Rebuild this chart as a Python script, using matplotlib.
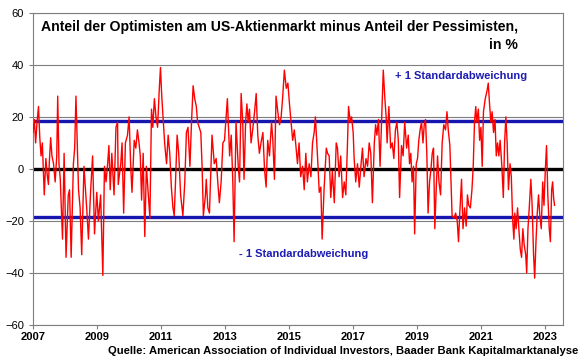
import numpy as np
import matplotlib.pyplot as plt

plt.rcParams['font.family'] = ['Liberation Sans', 'DejaVu Sans']

# Bull-Bear-Spread (AAII)
jahr = [
    2007.00, 2007.04, 2007.08, 2007.125, 2007.17, 2007.21, 2007.25, 2007.29, 2007.33, 2007.35,
    2007.40, 2007.44, 2007.48, 2007.51, 2007.55, 2007.59, 2007.64, 2007.69, 2007.74, 2007.77,
    2007.81, 2007.85, 2007.92, 2007.97, 2008.03, 2008.10, 2008.14, 2008.19, 2008.26, 2008.30,
    2008.34, 2008.42, 2008.47, 2008.52, 2008.59, 2008.68, 2008.73, 2008.80, 2008.86, 2008.92,
    2008.99, 2009.04, 2009.11, 2009.18, 2009.23, 2009.28, 2009.33, 2009.37, 2009.41, 2009.46,
    2009.53, 2009.59, 2009.64,
    2009.66, 2009.74, 2009.78, 2009.83, 2009.885, 2009.95, 2010.00, 2010.05, 2010.09, 2010.16,
    2010.21, 2010.26, 2010.31, 2010.35, 2010.39, 2010.44, 2010.49, 2010.54, 2010.59, 2010.65,
    2010.70, 2010.74, 2010.79, 2010.84, 2010.89, 2010.94, 2010.98, 2011.02, 2011.07, 2011.11,
    2011.17, 2011.22, 2011.27, 2011.32, 2011.37, 2011.41, 2011.45, 2011.50, 2011.55, 2011.61,
    2011.68, 2011.74, 2011.79, 2011.84, 2011.90, 2011.95, 2012.00, 2012.05, 2012.10, 2012.14,
    2012.19, 2012.24, 2012.28, 2012.32, 2012.385,
    2012.41, 2012.46, 2012.51, 2012.59, 2012.66, 2012.72, 2012.77, 2012.82, 2012.875, 2012.93,
    2012.98, 2013.03, 2013.07, 2013.14, 2013.19, 2013.24, 2013.28, 2013.34, 2013.41, 2013.45,
    2013.50, 2013.55, 2013.59, 2013.64, 2013.68, 2013.72, 2013.76, 2013.81, 2013.86, 2013.92,
    2013.97, 2014.02, 2014.07, 2014.12, 2014.18, 2014.23, 2014.28, 2014.33, 2014.385, 2014.45,
    2014.49, 2014.54, 2014.59, 2014.645, 2014.70, 2014.75, 2014.80, 2014.85, 2014.91, 2014.96,
    2015.01, 2015.06, 2015.11,
    2015.16, 2015.21, 2015.26, 2015.31, 2015.36, 2015.42, 2015.47, 2015.52, 2015.57, 2015.625,
    2015.68, 2015.73, 2015.78, 2015.82, 2015.885, 2015.94, 2015.99, 2016.03, 2016.09, 2016.16,
    2016.20, 2016.25, 2016.30, 2016.35, 2016.41, 2016.47, 2016.51, 2016.56, 2016.61, 2016.67,
    2016.72, 2016.77, 2016.82, 2016.855, 2016.91, 2016.95, 2017.00, 2017.03, 2017.08, 2017.135,
    2017.19, 2017.24, 2017.29, 2017.34, 2017.40, 2017.45, 2017.50, 2017.55, 2017.60, 2017.66,
    2017.70, 2017.74, 2017.79, 2017.84, 2017.885,
    2017.94, 2017.99, 2018.03, 2018.06, 2018.115, 2018.17, 2018.22, 2018.27, 2018.32, 2018.365,
    2018.41, 2018.45, 2018.51, 2018.56, 2018.61, 2018.67, 2018.72, 2018.76, 2018.80, 2018.84,
    2018.885, 2018.92, 2018.97, 2019.01, 2019.05, 2019.09, 2019.135, 2019.18, 2019.22, 2019.26,
    2019.30, 2019.34, 2019.385, 2019.43, 2019.47, 2019.51, 2019.55, 2019.59, 2019.635, 2019.68,
    2019.73, 2019.78, 2019.83, 2019.885, 2019.93, 2019.97, 2020.02, 2020.05, 2020.09, 2020.15,
    2020.20, 2020.25, 2020.29, 2020.33, 2020.385, 2020.43, 2020.48, 2020.53, 2020.57, 2020.61,
    2020.66, 2020.71, 2020.75, 2020.79, 2020.83, 2020.86, 2020.91, 2020.95, 2020.99, 2021.03,
    2021.07, 2021.125, 2021.18, 2021.22, 2021.26, 2021.30, 2021.34, 2021.385, 2021.43, 2021.47,
    2021.51, 2021.55, 2021.59, 2021.645, 2021.69, 2021.73, 2021.77, 2021.81, 2021.85, 2021.90,
    2021.94, 2021.98, 2022.02, 2022.05, 2022.09, 2022.135, 2022.18, 2022.22, 2022.26, 2022.30,
    2022.34, 2022.39, 2022.42, 2022.46, 2022.50, 2022.55, 2022.59, 2022.635, 2022.67, 2022.71,
    2022.75, 2022.79, 2022.83, 2022.875, 2022.92, 2022.96, 2023.00, 2023.04, 2023.08, 2023.125,
    2023.16, 2023.20, 2023.23, 2023.26, 2023.29,
]
spread = [
    14, 19, 10, 18, 24, 12, 5, 10, -3, -10,
    4, -2, -6, 3, 12, 5, 2, -5, 5, 28,
    2, -4, -27, 6, -34, -10, -8, -34, 2, 8,
    28, -8, -15, -33, 1, -16, -27, -8, 5, -25,
    -9, -20, -10, -41, 1, -5, 2, 9, -8, 6,
    -10, 16, 18,
    -6, 2, 10, -17, 10, 13, 20, 1, -9, 11,
    8, 15, 10, 5, -12, 6, -26, 1, -8, -19,
    23, 16, 27, 20, 16, 30, 39, 28, 18, 10,
    2, 13, 6, -7, -15, -18, -5, 13, 6, -10,
    -18, -5, 14, 16, 1, 18, 32, 27, 24, 18,
    16, 14, 1, -18, -10,
    -4, -15, -17, 13, 2, 4, -5, -13, -5, 10,
    11, 20, 27, 5, 13, -5, -28, 18, 1, -5,
    29, 18, -4, 18, 25, 18, 23, 10, 15, 22,
    29, 13, 6, 10, 14, 0, -7, 11, 5, 18,
    11, -4, 28, 22, 17, 20, 28, 38, 31, 33,
    25, 18, 11,
    15, 9, 2, 10, -3, 1, -8, 6, -5, 2,
    -3, 10, 14, 20, 5, -9, -7, -27, -8, 8,
    6, 5, -11, -1, -13, 10, 8, -3, 5, -11,
    -5, -10, 9, 24, 18, 20, 14, 4, -5, 2,
    -7, 1, 8, -3, 4, 1, 10, 6, -13, 10,
    17, 13, 19, 1, 18,
    38, 27, 20, 10, 24, 8, 10, 4, 15, 18,
    11, -11, 9, 5, 18, 8, 13, 2, 6, -5,
    1, -25, 2, 4, 11, 15, 18, 10, 17, 19,
    6, -17, -5, 0, 6, 8, -23, -9, 5, -5,
    -10, 10, 17, 15, 22, 15, 9, -3, -18, -19,
    -17, -20, -28, -17, -4, -23, -15, -22, -10, -14,
    -15, -8, 1, 18, 24, 18, 23, 11, 16, 1,
    22, 27, 30, 33, 25, 18, 22, 14, 19, 5,
    10, 5, 11, 1, -11, 10, 20, 10, -8, 2,
    -3, -19, -27, -17, -23, -15, -24, -31, -34, -23,
    -29, -33, -40, -23, -15, -4, -14, -33, -42, -28,
    -17, -10, -18, -23, -5, -14, -1, 9, -10, -23,
    -28, -8, -5, -11, -14,
]
std_plus = 18.6
std_minus = -18.6

fig = plt.figure(figsize=(5.8, 3.59), dpi=100)
ax = fig.add_axes([0.057, 0.095, 0.914, 0.869])

ax.set_xlim(2007, 2023.56)
ax.set_ylim(-60, 60)
ax.set_yticks(np.arange(-60, 61, 20))
ax.set_xticks(np.arange(2007, 2024, 2))
ax.set_xticklabels([str(j) for j in range(2007, 2024, 2)], fontweight='bold')

for y in range(-60, 61, 20):
    if y != 0:
        ax.axhline(y, color='#7f7f7f', lw=0.8, zorder=1)
ax.axhline(0, color='black', lw=2.4, zorder=2)
ax.axhline(std_plus, color='#1515b0', lw=2.4, zorder=2)
ax.axhline(std_minus, color='#1515b0', lw=2.4, zorder=2)

ax.plot(jahr, spread, color='#ff0000', lw=1.0, zorder=3)

for s in ax.spines.values():
    s.set_color('#7f7f7f')
    s.set_linewidth(0.8)
ax.tick_params(axis='both', colors='#7f7f7f', labelcolor='black', labelsize=8, length=3, width=0.8)
ax.tick_params(axis='x', pad=2)

ax.text(0.915, 0.978, 'Anteil der Optimisten am US-Aktienmarkt minus Anteil der Pessimisten,\nin %',
        transform=ax.transAxes, ha='right', va='top', fontsize=10.1, fontweight='bold',
        linespacing=1.4, multialignment='right')
ax.text(2022.44, 35.8, '+ 1 Standardabweichung', ha='right', va='center', fontsize=8,
        fontweight='bold', color='#1c1cb4')
ax.text(2017.47, -32.8, '- 1 Standardabweichung', ha='right', va='center', fontsize=8,
        fontweight='bold', color='#1c1cb4')

fig.text(0.997, 0.008, 'Quelle: American Association of Individual Investors, Baader Bank Kapitalmarktanalyse',
         ha='right', va='bottom', fontsize=8.1, fontweight='bold')

fig.savefig('out.png', dpi=100)
